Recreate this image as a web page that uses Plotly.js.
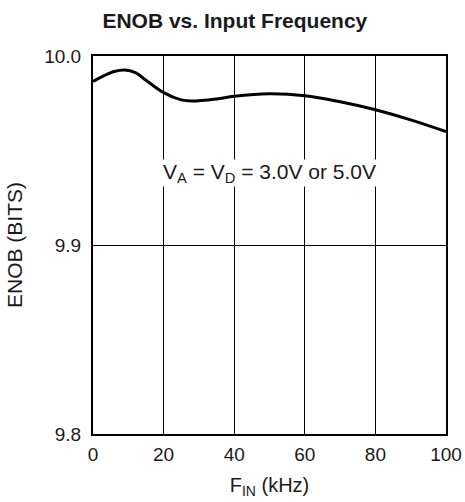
<!DOCTYPE html>
<html>
<head>
<meta charset="utf-8">
<script src="https://cdn.plot.ly/plotly-3.0.1.min.js"></script>
<style>html,body{margin:0;padding:0;background:#fff;}#chart{width:465px;height:502px;}</style>
</head>
<body>
<div id="chart"></div>
<script>
const freqKHz = [0, 3, 6, 9, 12, 15, 20, 25, 28, 35, 40, 50, 60, 70, 80, 90, 100];
const enobBits = [9.9865, 9.9895, 9.9918, 9.9926, 9.9912, 9.9872, 9.9806, 9.9768, 9.9762, 9.9773, 9.9787, 9.9800, 9.9790, 9.9758, 9.9716, 9.9662, 9.9600];
const xTicks = [0, 20, 40, 60, 80, 100];
const yTicks = [9.8, 9.9, 10.0];
const yTickText = ["9.8", "9.9", "10.0"];

const trace = {
  x: freqKHz, y: enobBits, type: 'scatter', mode: 'lines',
  line: {color: '#000', width: 3, shape: 'spline', smoothing: 1.0},
  hoverinfo: 'skip'
};
const font = {family: 'Liberation Sans, Arial, sans-serif', color: '#1a1a1a'};
const layout = {
  width: 465, height: 502,
  margin: {l: 93, r: 19, t: 56, b: 68},
  paper_bgcolor: '#fff', plot_bgcolor: '#fff',
  showlegend: false,
  font: Object.assign({size: 19}, font),
  title: {text: '<b>ENOB vs. Input Frequency</b>', x: 0.505, xanchor: 'center', y: 0.958, yanchor: 'middle',
    font: Object.assign({size: 21}, font)},
  xaxis: {
    range: [0, 100], tickvals: xTicks, ticks: '', showgrid: true, gridcolor: '#000', gridwidth: 1,
    zeroline: false, showline: true, linecolor: '#000', linewidth: 2, mirror: true,
    tickfont: Object.assign({size: 19}, font), ticklabelstandoff: 2,
    title: {text: 'F<sub>IN</sub> (kHz)', font: Object.assign({size: 20}, font), standoff: 14}
  },
  yaxis: {
    range: [9.8, 10.0], tickvals: yTicks, ticktext: yTickText, ticks: '', showgrid: true, gridcolor: '#000', gridwidth: 1,
    zeroline: false, showline: true, linecolor: '#000', linewidth: 2, mirror: true,
    tickfont: Object.assign({size: 19}, font), ticklabelstandoff: 6,
    title: {text: 'ENOB (BITS)', font: Object.assign({size: 21}, font), standoff: 16}
  },
  annotations: [{
    x: 50, y: 9.9382, xref: 'x', yref: 'y', showarrow: false,
    text: 'V<sub>A</sub> = V<sub>D</sub> = 3.0V or 5.0V',
    font: Object.assign({size: 21}, font), bgcolor: '#fff', borderpad: 0
  }]
};
Plotly.newPlot('chart', [trace], layout, {displayModeBar: false, staticPlot: true});
</script>
</body>
</html>
